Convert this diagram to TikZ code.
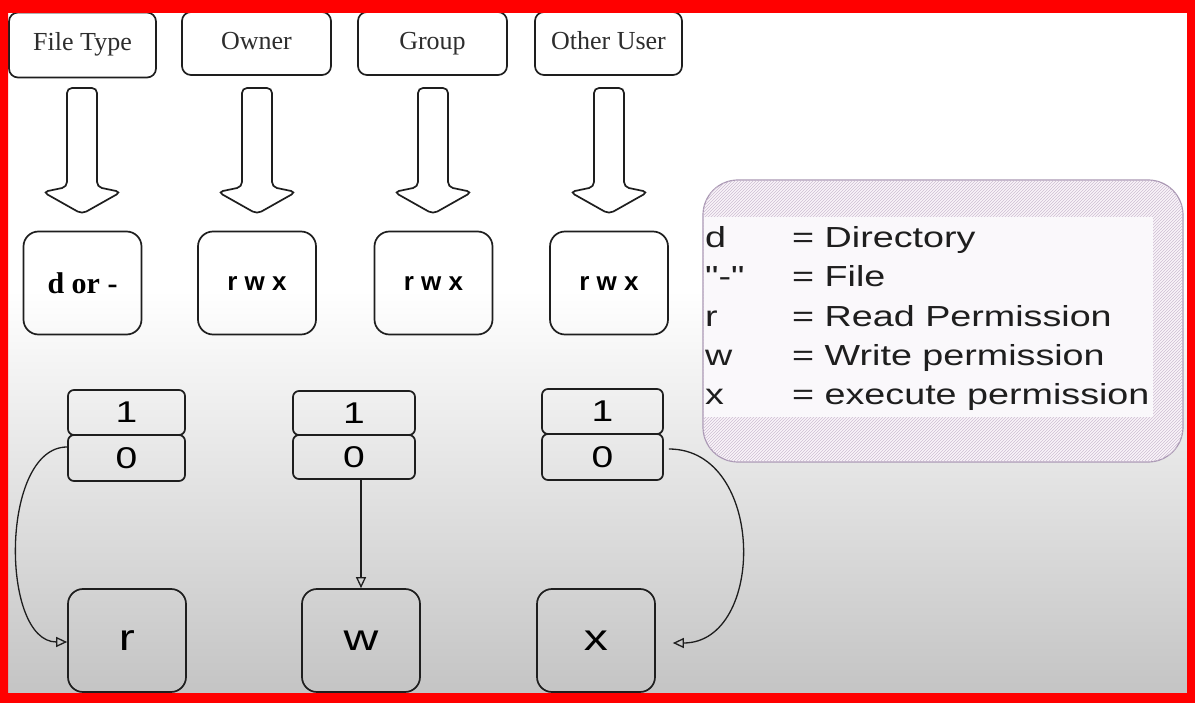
\documentclass[tikz,border=0pt]{standalone}
\usepackage{fontspec}
\setmainfont{Liberation Serif}
\newfontfamily\wide[FakeStretch=1.3]{Liberation Sans}
\newfontfamily\plainsans{Liberation Sans}
\usetikzlibrary{arrows.meta,patterns}
\definecolor{ink}{RGB}{30,30,30}
\definecolor{labelink}{RGB}{45,45,45}
\definecolor{bgbottom}{RGB}{196,196,196}
\definecolor{legborder}{RGB}{170,152,180}
\definecolor{legfill}{RGB}{250,245,250}
\definecolor{leghatch}{RGB}{205,190,210}
\definecolor{leginner}{RGB}{250,248,251}
\tikzset{
  shape box/.style={draw=ink, line width=1.7pt, inner sep=0pt, align=center},
  topbox/.style={shape box, rounded corners=9pt, fill=white, text=labelink,
    font=\fontsize{26}{30}\selectfont, text height=18pt, text depth=6pt},
  midbox/.style={shape box, rounded corners=15pt, minimum width=118pt, minimum height=103pt},
  bitbox/.style={shape box, rounded corners=6pt, minimum height=45pt,
    font=\wide\fontsize{30}{32}\selectfont},
  lowbox/.style={shape box, rounded corners=15pt, minimum width=118pt, minimum height=103pt,
    font=\wide\fontsize{37}{39}\selectfont},
  legtext/.style={anchor=base west, inner sep=0pt, text=ink,
    font=\wide\fontsize{29}{31}\selectfont},
  conn/.style={draw=ink, line width=1.3pt, -{Triangle[open,length=11pt,width=10pt]}},
  blockarrow/.style={draw=ink, line width=1.7pt, fill=white, rounded corners=5pt},
}
\begin{document}
\begin{tikzpicture}[x=1pt,y=-1pt]
\useasboundingbox (0,0) rectangle (1195,703);
% background
\fill[white] (0,0) rectangle (1195,703);
\shade[top color=white, bottom color=bgbottom] (0,290) rectangle (1195,693);

% top labels
\node[topbox, minimum width=147pt, minimum height=65pt] (ft) at (82.5,45) {File Type};
\node[topbox, minimum width=149pt, minimum height=63pt] (ow) at (256.5,43.5) {Owner};
\node[topbox, minimum width=149pt, minimum height=63pt] (gr) at (432.5,43.5) {Group};
\node[topbox, minimum width=147pt, minimum height=63pt] (ou) at (608.5,43.5) {Other User};

% block arrows
\foreach \cx in {82,257,433,609}{
  \draw[blockarrow] (\cx-15,187) -- (\cx-15,88) -- (\cx+15,88) -- (\cx+15,187)
    -- (\cx+39,192) -- (\cx,214) -- (\cx-39,192) -- cycle;
}

% middle boxes
\node[midbox, font=\bfseries\fontsize{30}{33}\selectfont] (m1) at (82.5,283) {d or -};
\node[midbox, font=\plainsans\bfseries\fontsize{26}{28}\selectfont] (m2) at (257,283) {r w x};
\node[midbox, font=\plainsans\bfseries\fontsize{26}{28}\selectfont] (m3) at (433.5,283) {r w x};
\node[midbox, font=\plainsans\bfseries\fontsize{26}{28}\selectfont] (m4) at (609,283) {r w x};

% bit boxes
\node[bitbox, minimum width=117pt] (o1) at (126.5,412.5) {1};
\node[bitbox, minimum width=117pt, minimum height=46pt] (z1) at (126.5,458) {0};
\node[bitbox, minimum width=122pt, minimum height=44pt] (o2) at (354,413) {1};
\node[bitbox, minimum width=122pt, minimum height=44pt] (z2) at (354,457) {0};
\node[bitbox, minimum width=121pt] (o3) at (602.5,411.5) {1};
\node[bitbox, minimum width=121pt, minimum height=46pt] (z3) at (602.5,457) {0};

% bottom boxes
\node[lowbox] (r) at (127,640.5) {r};
\node[lowbox] (w) at (361,640.5) {w};
\node[lowbox] (x) at (596,640.5) {x};

% connectors
\draw[conn] ([yshift=11pt]z1.west) .. controls (0,447) and (0,642) .. ([yshift=-1.5pt]r.west);
\draw[conn] (w.north |- z2.south) -- (w.north);
\draw[conn] ([xshift=5pt,yshift=8pt]z3.east) .. controls (766,449) and (766,643) .. ([xshift=17pt,yshift=-2.5pt]x.east);

% legend
\node[draw=legborder, line width=1.2pt, fill=legfill, rounded corners=35pt,
  minimum width=480pt, minimum height=282pt, inner sep=0pt,
  postaction={pattern=north east lines, pattern color=leghatch}] (legend) at (943,321) {};
\fill[leginner] (704,217) rectangle (1153,417);
\node[legtext] (k1) at (705,248) {d};
\node[legtext] (v1) at (792,248) {= Directory};
\node[legtext] (k2) at (705,287) {"-"};
\node[legtext] (v2) at (792,287) {= File};
\node[legtext] (k3) at (705,327) {r};
\node[legtext] (v3) at (792,327) {= Read Permission};
\node[legtext] (k4) at (705,366) {w};
\node[legtext] (v4) at (792,366) {= Write permission};
\node[legtext] (k5) at (705,405) {x};
\node[legtext] (v5) at (792,405) {= execute permission};

% red frame
\fill[red, even odd rule] (0,0) rectangle (1195,703) (8,13) rectangle (1187,693);
\end{tikzpicture}
\end{document}
